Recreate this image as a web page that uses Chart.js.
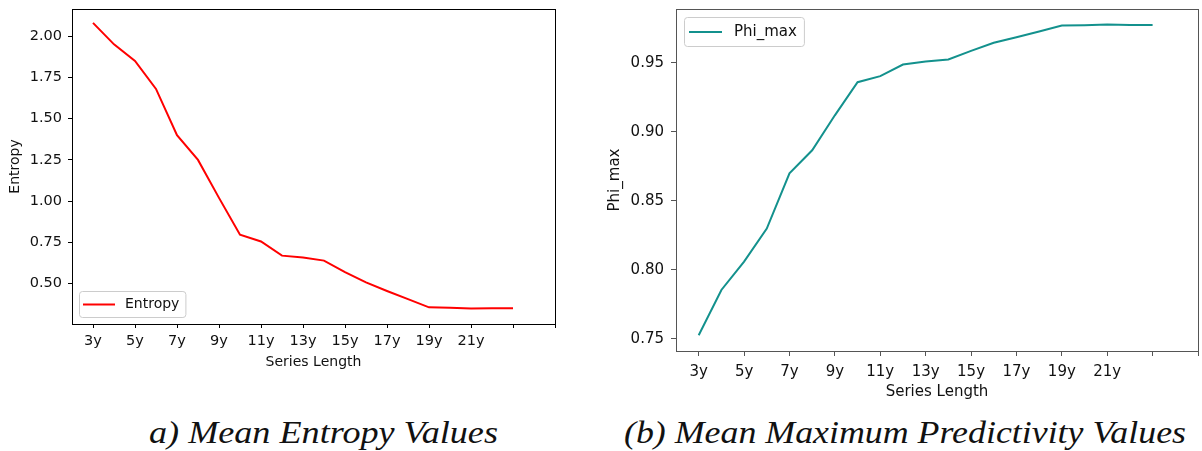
<!DOCTYPE html>
<html lang="en">
<head>
  <meta charset="UTF-8" />
  <title>Mean Entropy and Maximum Predictivity</title>
  <script src="https://cdn.jsdelivr.net/npm/chart.js"></script>
  <style>
    html, body { margin: 0; padding: 0; background: #fff; }
    body { width: 1202px; height: 451px; position: relative; overflow: hidden; }
    #wrapA { position: absolute; left: 0; top: 0; width: 590px; height: 380px; }
    #wrapB { position: absolute; left: 590px; top: 0; width: 612px; height: 410px; }
    .caption {
      position: absolute; top: 417px; line-height: 31px;
      font-family: 'Liberation Serif', serif; font-style: italic; font-size: 31px;
      color: #111; white-space: nowrap; transform-origin: left top;
    }
  </style>
</head>
<body>
  <div id="wrapA"><canvas id="entropyChart"></canvas></div>
  <div id="wrapB"><canvas id="phiChart"></canvas></div>
  <span class="caption" data-w="349" style="left:149px">a) Mean Entropy Values</span>
  <span class="caption" data-w="562" style="left:624px">(b) Mean Maximum Predictivity Values</span>

  <script>
    // series lengths 3y .. 23y
    const seriesLengths = ['3y','4y','5y','6y','7y','8y','9y','10y','11y','12y','13y','14y',
                           '15y','16y','17y','18y','19y','20y','21y','22y','23y'];
    const entropy = [2.08, 1.95, 1.85, 1.68, 1.40, 1.25, 1.02, 0.797, 0.756, 0.67, 0.659,
                     0.64, 0.57, 0.508, 0.456, 0.407, 0.357, 0.355, 0.35, 0.352, 0.352];
    const phiMax = [0.7527, 0.7855, 0.806, 0.830, 0.870, 0.8867, 0.912, 0.936, 0.9404, 0.9488,
                    0.951, 0.9525, 0.9587, 0.9645, 0.9686, 0.9727, 0.977, 0.9772, 0.9777, 0.9775, 0.9775];
    // x ticks every 2 steps; the last two ticks have no label in the original
    const xTickLabels = ['3y','5y','7y','9y','11y','13y','15y','17y','19y','21y'];
    const xTickCount = 12;
    const entropyTicks = [0.50, 0.75, 1.00, 1.25, 1.50, 1.75, 2.00];
    const phiTicks = [0.75, 0.80, 0.85, 0.90, 0.95];

    const FONT = "'DejaVu Sans', sans-serif";

    // frame around the plot area plus a matplotlib-like legend box
    const frameLegend = {
      id: 'frameLegend',
      afterDraw(chart, args, opts) {
        const { ctx, chartArea: a } = chart;
        ctx.save();
        ctx.strokeStyle = opts.frameColor;
        ctx.lineWidth = 1;
        ctx.strokeRect(Math.round(a.left) + 0.5, Math.round(a.top) + 0.5,
                       Math.round(a.right - a.left), Math.round(a.bottom - a.top));

        const ds = chart.data.datasets[0];
        ctx.font = opts.fontSize + 'px ' + FONT;
        const tw = ctx.measureText(ds.label).width;
        const w = opts.pad + opts.lineLen + opts.gap + tw + opts.pad + 2;
        const h = opts.height;
        const x = a.left + opts.offset;
        const y = opts.corner === 'bl' ? a.bottom - opts.offset - h : a.top + opts.offset;
        ctx.beginPath();
        ctx.roundRect(x + 0.5, y + 0.5, w, h, 3);
        ctx.fillStyle = 'rgba(255,255,255,0.85)';
        ctx.fill();
        ctx.strokeStyle = '#cccccc';
        ctx.stroke();
        const cy = y + h / 2 + 0.5;
        ctx.beginPath();
        ctx.moveTo(x + opts.pad, cy);
        ctx.lineTo(x + opts.pad + opts.lineLen, cy);
        ctx.strokeStyle = ds.borderColor;
        ctx.lineWidth = 2;
        ctx.stroke();
        ctx.fillStyle = '#111';
        ctx.textBaseline = 'middle';
        ctx.fillText(ds.label, x + opts.pad + opts.lineLen + opts.gap, cy);
        ctx.restore();
      }
    };

    function makeChart(id, cfg) {
      const pts = seriesLengths.map((s, i) => ({ x: i, y: cfg.values[i] }));
      const tickFont = { family: FONT, size: cfg.tickSize };
      const titleFont = { family: FONT, size: cfg.titleSize };
      return new Chart(document.getElementById(id), {
        type: 'line',
        data: {
          datasets: [{
            label: cfg.label,
            data: pts,
            borderColor: cfg.color,
            borderWidth: 2,
            pointRadius: 0,
            tension: 0
          }]
        },
        options: {
          responsive: true,
          maintainAspectRatio: false,
          devicePixelRatio: 1,
          animation: false,
          layout: { padding: { top: 9, right: cfg.rightPad, left: 0, bottom: 0 } },
          plugins: {
            legend: { display: false },
            tooltip: { enabled: false },
            frameLegend: cfg.legend
          },
          scales: {
            x: {
              type: 'linear',
              min: -1,
              max: 22,
              afterBuildTicks: s => { s.ticks = Array.from({ length: xTickCount }, (_, i) => ({ value: i * 2 })); },
              afterFit: s => { s.height = cfg.xHeight; s.paddingLeft = 0; s.paddingRight = 0; },
              grid: { drawOnChartArea: false, tickLength: cfg.tickLen, tickColor: cfg.frameColor },
              border: { display: true, color: cfg.frameColor },
              ticks: {
                font: tickFont, color: '#111', padding: cfg.xTickPad, maxRotation: 0, autoSkip: false,
                callback: v => xTickLabels[v / 2] || ''
              },
              title: {
                display: true, text: 'Series Length', font: titleFont, color: '#111',
                padding: { top: 0, bottom: cfg.xTitlePad }
              }
            },
            y: {
              min: cfg.yMin,
              max: cfg.yMax,
              afterBuildTicks: s => { s.ticks = cfg.yTicks.map(v => ({ value: v })); },
              afterFit: s => { s.width = cfg.yWidth; s.paddingTop = 0; s.paddingBottom = 0; },
              grid: { drawOnChartArea: false, tickLength: cfg.tickLen, tickColor: cfg.frameColor },
              border: { display: true, color: cfg.frameColor },
              ticks: { font: tickFont, color: '#111', padding: cfg.yTickPad, callback: v => v.toFixed(2) },
              title: {
                display: true, text: cfg.yTitle, font: titleFont, color: '#111',
                padding: { top: cfg.yTitlePad, bottom: 0 }
              }
            }
          }
        },
        plugins: [frameLegend]
      });
    }

    makeChart('entropyChart', {
      values: entropy, label: 'Entropy', color: '#ff0000', yTitle: 'Entropy',
      yMin: 0.256, yMax: 2.164, yTicks: entropyTicks,
      rightPad: 35, yWidth: 72, xHeight: 56, tickLen: 4,
      tickSize: 14.5, titleSize: 14, xTickPad: 5, yTickPad: 6, xTitlePad: 9.6, yTitlePad: 7,
      frameColor: '#000',
      legend: { corner: 'bl', offset: 7, height: 26, pad: 4, lineLen: 32, gap: 10, fontSize: 14, frameColor: '#000' }
    });

    makeChart('phiChart', {
      values: phiMax, label: 'Phi_max', color: '#13918d', yTitle: 'Phi_max',
      yMin: 0.7413, yMax: 0.989, yTicks: phiTicks,
      rightPad: 4, yWidth: 86, xHeight: 59, tickLen: 5,
      tickSize: 15, titleSize: 15, xTickPad: 7, yTickPad: 7, xTitlePad: 9.3, yTitlePad: 16,
      frameColor: '#555',
      legend: { corner: 'tl', offset: 8, height: 29, pad: 5, lineLen: 33, gap: 12, fontSize: 15, frameColor: '#555' }
    });

    // stretch captions to the width they take in the original figure
    document.querySelectorAll('.caption').forEach(el => {
      const w = el.getBoundingClientRect().width;
      el.style.transform = 'scaleX(' + (Number(el.dataset.w) / w) + ')';
    });
  </script>
</body>
</html>
